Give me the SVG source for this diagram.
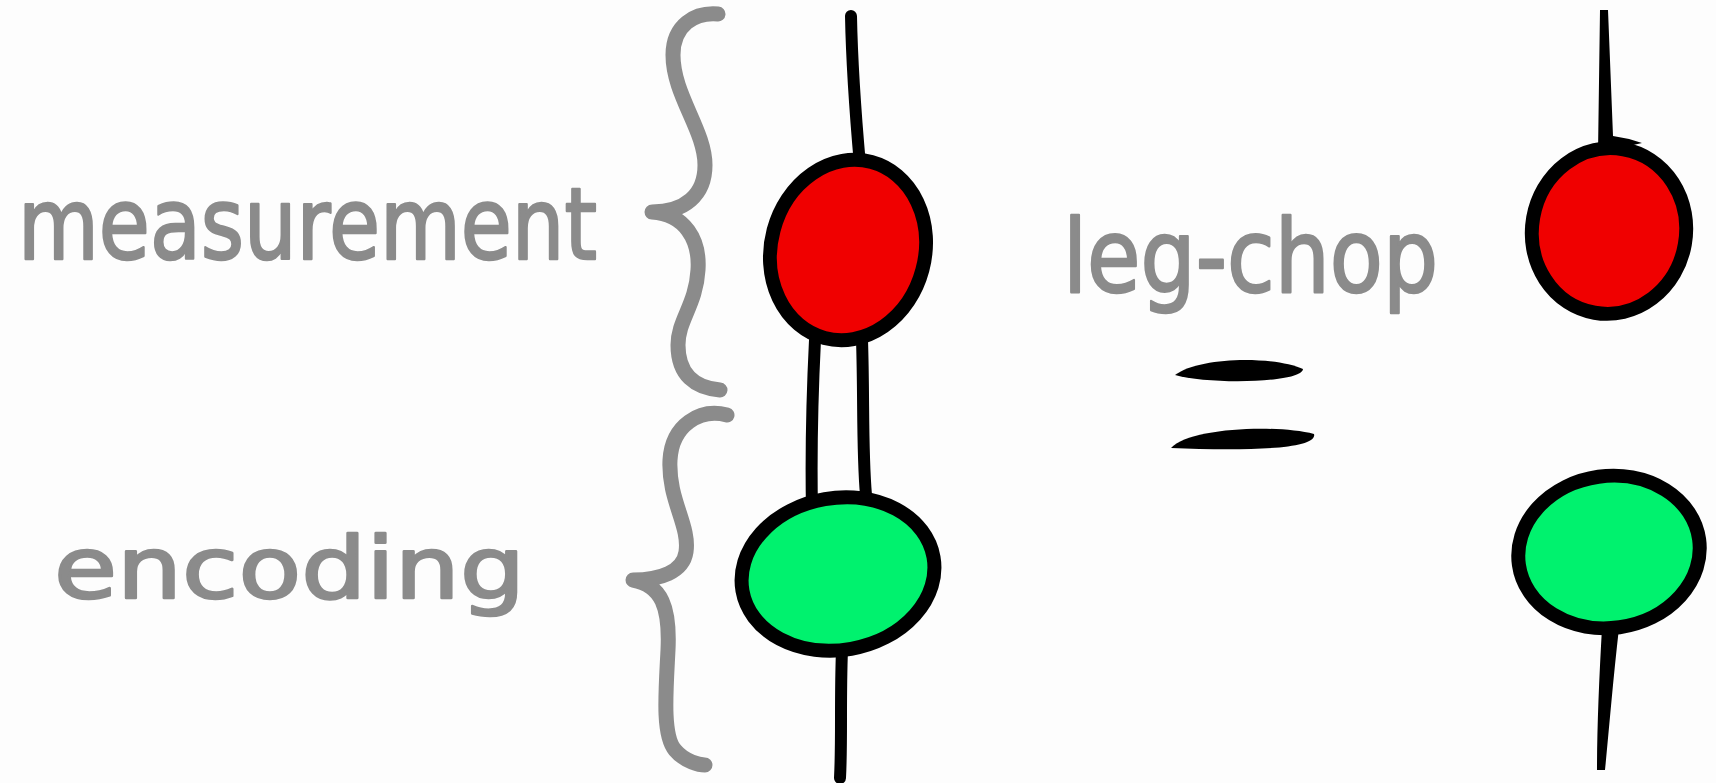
<svg xmlns="http://www.w3.org/2000/svg" width="1716" height="783" viewBox="0 0 1716 783">
<style>
.lbl{font-family:"DejaVu Sans","Liberation Sans",sans-serif;fill:#8b8b8b;stroke:#8b8b8b;stroke-width:2.5;stroke-linejoin:round}
.brace{fill:none;stroke:#8b8b8b;stroke-width:15;stroke-linecap:round;stroke-linejoin:round}
.wire{fill:none;stroke:#000;stroke-width:12;stroke-linecap:round}
.red{fill:#f00000;stroke:#000;stroke-width:14}
.green{fill:#00f26e;stroke:#000;stroke-width:14}
.ink{fill:#000}
</style>
<rect width="1716" height="783" fill="#fdfdfd"/>
<g id="labels">
<text class="lbl" x="18" y="259" font-size="100" textLength="579" lengthAdjust="spacingAndGlyphs">measurement</text>
<text class="lbl" x="54" y="598" font-size="86" textLength="471" lengthAdjust="spacingAndGlyphs">encoding</text>
<text class="lbl" x="1063" y="292" font-size="102" textLength="375" lengthAdjust="spacingAndGlyphs">leg-chop</text>
</g>
<g id="braces">
<path class="brace" d="M718,14 C695,12 673,25 673,55 C673,95 705,130 705,165 C705,195 685,212 652,212 C685,214 700,240 698,270 C696,305 678,320 678,345 C678,375 695,388 720,390"/>
<path class="brace" d="M727,415 C700,408 672,425 670,460 C668,500 690,525 686,552 C683,572 660,580 633,580 C662,585 670,608 668,650 C666,690 662,735 675,750 C685,762 700,765 705,765"/>
</g>
<g id="connectors">
<path class="wire" d="M851,16 C852,70 856,120 860,165"/>
<path class="wire" d="M815,340 C812,400 811,460 812,510"/>
<path class="wire" d="M862,340 C864,400 862,450 866,495"/>
<path class="wire" d="M842,650 C840,700 842,740 840,778"/>
<path class="ink" d="M1600,10 L1608,10 L1613,136 Q1628,138 1642,143 L1598,153 Z"/>
<path class="ink" d="M1602,628 L1619,628 C1613,680 1609,730 1605,770 L1597,770 C1597,730 1599,680 1602,628 Z"/>
</g>
<g id="equals">
<path class="ink" d="M1175,375 C1200,356 1275,356 1303,369 C1302,383 1210,385 1175,375 Z"/>
<path class="ink" d="M1171,448 C1188,428 1275,424 1314,434 C1318,450 1240,451 1171,448 Z"/>
</g>
<g id="measure-left">
<ellipse class="red" cx="848" cy="250" rx="77" ry="91" transform="rotate(15 848 250)"/>
</g>
<g id="encode-left">
<ellipse class="green" cx="838" cy="574" rx="97" ry="76" transform="rotate(-10 838 574)"/>
</g>
<g id="measure-right">
<ellipse class="red" cx="1609" cy="231" rx="77" ry="83" transform="rotate(10 1609 231)"/>
</g>
<g id="encode-right">
<ellipse class="green" cx="1609" cy="552" rx="91" ry="76" transform="rotate(-8 1609 552)"/>
</g>
</svg>
